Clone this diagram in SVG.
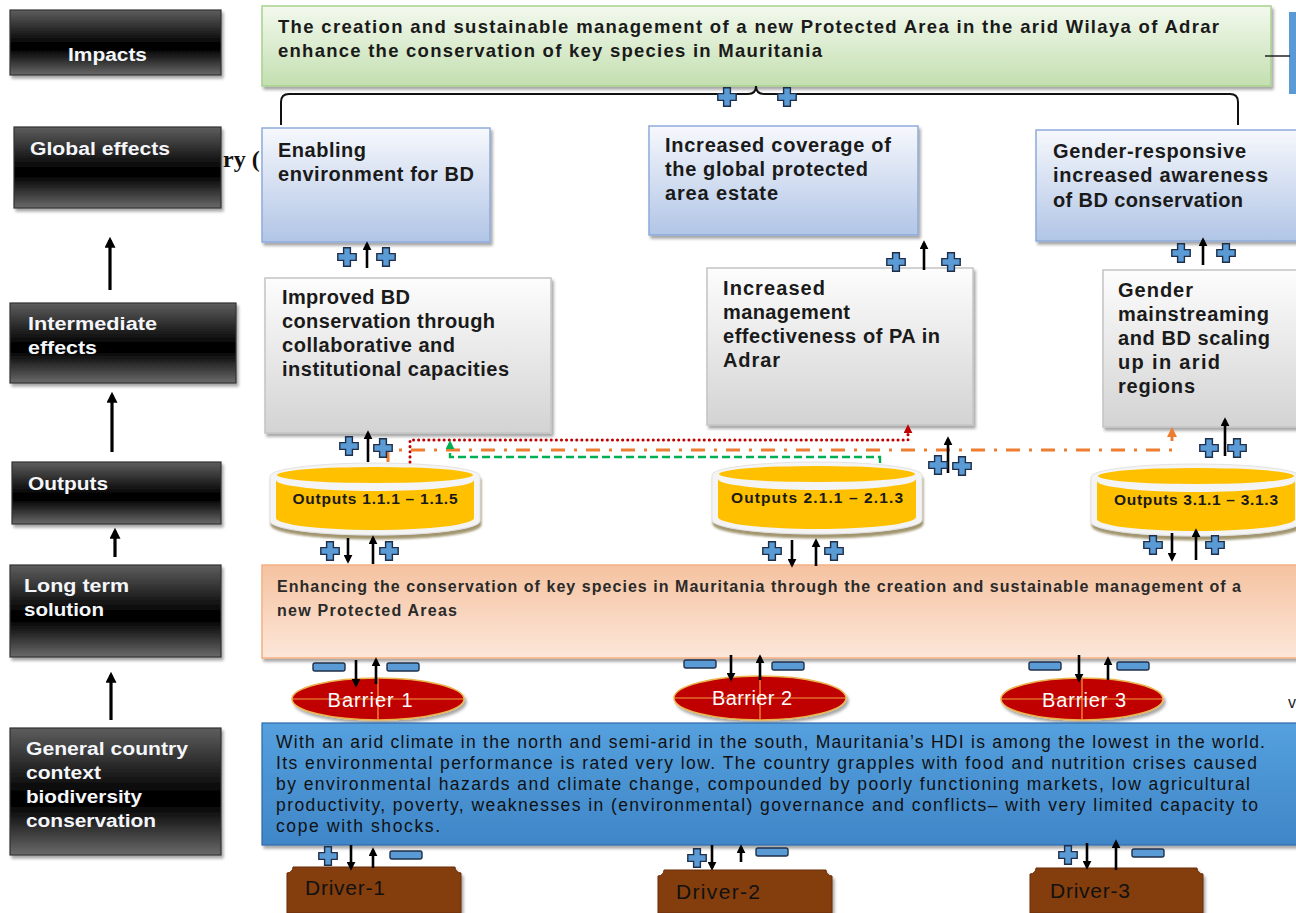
<svg xmlns="http://www.w3.org/2000/svg" xmlns:xlink="http://www.w3.org/1999/xlink" width="1296" height="913" viewBox="0 0 1296 913">
<style>
.lbl{font-family:"Liberation Sans",Arial,sans-serif;font-weight:bold;font-size:18px;fill:#f4f6fa}
.t{font-family:"Liberation Sans",Arial,sans-serif;font-size:20px;font-weight:bold;fill:#1a1a1a}
.tg{font-family:"Liberation Sans",Arial,sans-serif;font-size:18.5px;font-weight:bold;fill:#1a1a1a}
.tl{font-family:"Liberation Sans",Arial,sans-serif;font-size:16px;font-weight:bold;fill:#2a2a2a}
.tc{font-family:"Liberation Sans",Arial,sans-serif;font-size:17.5px;fill:#111}
.cy{font-family:"Liberation Sans",Arial,sans-serif;font-size:15.5px;font-weight:bold;fill:#1a1a1a;text-anchor:middle}
.br{font-family:"Liberation Sans",Arial,sans-serif;font-size:20px;fill:#fff;text-anchor:middle}
.dr{font-family:"Liberation Sans",Arial,sans-serif;font-size:21px;fill:#111}
.bk{stroke:#333;stroke-width:1.2}
.arr{stroke:#000;stroke-width:2.6;fill:none;marker-end:url(#ak)}
.arrL{stroke:#000;stroke-width:3.2;fill:none;marker-end:url(#akL)}
</style>
<defs>
<linearGradient id="gBlack" x1="0" y1="0" x2="0" y2="1">
<stop offset="0" stop-color="#5e5e5e"/><stop offset="0.5" stop-color="#050505"/><stop offset="0.6" stop-color="#000"/><stop offset="1" stop-color="#6a6a6a"/>
</linearGradient>
<linearGradient id="gGreen" x1="0" y1="0" x2="0" y2="1">
<stop offset="0" stop-color="#f3f9ee"/><stop offset="1" stop-color="#c3dfb0"/>
</linearGradient>
<linearGradient id="gBlue" x1="0" y1="0" x2="0" y2="1">
<stop offset="0" stop-color="#f6f8fc"/><stop offset="1" stop-color="#b1c5e6"/>
</linearGradient>
<linearGradient id="gGray" x1="0" y1="0" x2="0" y2="1">
<stop offset="0" stop-color="#fdfdfd"/><stop offset="1" stop-color="#d3d3d3"/>
</linearGradient>
<linearGradient id="gPeach" x1="0" y1="0" x2="0" y2="1">
<stop offset="0" stop-color="#f5c2a0"/><stop offset="1" stop-color="#fce7d9"/>
</linearGradient>
<linearGradient id="gCtx" x1="0" y1="0" x2="0" y2="1">
<stop offset="0" stop-color="#55a0de"/><stop offset="1" stop-color="#3f86c8"/>
</linearGradient>
<filter id="sh" x="-5%" y="-10%" width="115%" height="130%">
<feDropShadow dx="2" dy="3" stdDeviation="1.5" flood-color="#000" flood-opacity="0.35"/>
</filter>
<filter id="shT" x="-5%" y="-10%" width="115%" height="130%">
<feDropShadow dx="1" dy="4" stdDeviation="1" flood-color="#8a7a4a" flood-opacity="0.8"/>
</filter>
<path id="plus" d="M-3.4,-9.2 h6.8 v5.8 h5.8 v6.8 h-5.8 v5.8 h-6.8 v-5.8 h-5.8 v-6.8 h5.8 z" fill="#5b9bd5" stroke="#1f2f4a" stroke-width="1.4"/>
<rect id="minus" x="-16" y="-4" width="32" height="8" rx="2" fill="#5b9bd5" stroke="#1f2f4a" stroke-width="1.4"/>
<marker id="ak" viewBox="0 0 10 10" refX="7" refY="5" markerWidth="9" markerHeight="9" markerUnits="userSpaceOnUse" orient="auto"><path d="M0,0 L10,5 L0,10 z" fill="#000"/></marker>
<marker id="akL" viewBox="0 0 10 10" refX="7" refY="5" markerWidth="11" markerHeight="11" markerUnits="userSpaceOnUse" orient="auto"><path d="M0,0 L10,5 L0,10 z" fill="#000"/></marker>
<marker id="akR" viewBox="0 0 10 10" refX="7" refY="5" markerWidth="9" markerHeight="9" markerUnits="userSpaceOnUse" orient="auto"><path d="M0,0 L10,5 L0,10 z" fill="#c00000"/></marker>
<marker id="akO" viewBox="0 0 10 10" refX="7" refY="5" markerWidth="10" markerHeight="10" markerUnits="userSpaceOnUse" orient="auto"><path d="M0,0 L10,5 L0,10 z" fill="#ed7d31"/></marker>
<marker id="akG" viewBox="0 0 10 10" refX="7" refY="5" markerWidth="9" markerHeight="9" markerUnits="userSpaceOnUse" orient="auto"><path d="M0,0 L10,5 L0,10 z" fill="#00b050"/></marker>
</defs>
<rect width="1296" height="913" fill="#fff"/>

<!-- Left column labels -->
<g id="lbl-impacts"><rect x="10" y="10" width="211" height="65" fill="url(#gBlack)" class="bk" filter="url(#sh)"/><text class="lbl" x="68" y="61" textLength="79" lengthAdjust="spacingAndGlyphs">Impacts</text></g>
<g id="lbl-global"><rect x="14" y="127" width="207" height="81" fill="url(#gBlack)" class="bk" filter="url(#sh)"/><text class="lbl" x="30" y="155" textLength="140" lengthAdjust="spacingAndGlyphs">Global effects</text></g>
<g id="lbl-intermediate"><rect x="10" y="303" width="226" height="80" fill="url(#gBlack)" class="bk" filter="url(#sh)"/><text class="lbl" x="28" y="330" textLength="129" lengthAdjust="spacingAndGlyphs">Intermediate</text><text class="lbl" x="28" y="354" textLength="69" lengthAdjust="spacingAndGlyphs">effects</text></g>
<g id="lbl-outputs"><rect x="12" y="462" width="209" height="62" fill="url(#gBlack)" class="bk" filter="url(#sh)"/><text class="lbl" x="28" y="490" textLength="80" lengthAdjust="spacingAndGlyphs">Outputs</text></g>
<g id="lbl-longterm"><rect x="10" y="565" width="211" height="92" fill="url(#gBlack)" class="bk" filter="url(#sh)"/><text class="lbl" x="24" y="592" textLength="105" lengthAdjust="spacingAndGlyphs">Long term</text><text class="lbl" x="24" y="616" textLength="80" lengthAdjust="spacingAndGlyphs">solution</text></g>
<g id="lbl-context"><rect x="10" y="728" width="211" height="127" fill="url(#gBlack)" class="bk" filter="url(#sh)"/><text class="lbl" x="26" y="755" textLength="162" lengthAdjust="spacingAndGlyphs">General country</text><text class="lbl" x="26" y="779" textLength="75" lengthAdjust="spacingAndGlyphs">context</text><text class="lbl" x="26" y="803" textLength="116" lengthAdjust="spacingAndGlyphs">biodiversity</text><text class="lbl" x="26" y="827" textLength="130" lengthAdjust="spacingAndGlyphs">conservation</text></g>

<text x="223" y="167" font-family="'Liberation Serif',serif" font-weight="bold" font-size="24" fill="#111">ry (</text>

<!-- Impact -->
<g id="impact"><rect x="262" y="6" width="1009" height="80" fill="url(#gGreen)" stroke="#a9d18e" stroke-width="1.5" filter="url(#sh)"/>
<text class="tg" x="278" y="33" textLength="941" lengthAdjust="spacing">The creation and sustainable management of a new Protected Area in the arid Wilaya of Adrar</text>
<text class="tg" x="278" y="57" textLength="544" lengthAdjust="spacing">enhance the conservation of key species in Mauritania</text></g>
<rect x="1289" y="12" width="7" height="82" fill="#5b9bd5"/>

<!-- Global effects -->
<g id="ge1"><rect x="262" y="128" width="228" height="114" fill="url(#gBlue)" stroke="#8eaadb" stroke-width="1.5" filter="url(#sh)"/>
<text class="t" x="278" y="157" textLength="88" lengthAdjust="spacing">Enabling</text>
<text class="t" x="278" y="181" textLength="196" lengthAdjust="spacing">environment for BD</text></g>
<g id="ge2"><rect x="649" y="126" width="269" height="109" fill="url(#gBlue)" stroke="#8eaadb" stroke-width="1.5" filter="url(#sh)"/>
<text class="t" x="665" y="152" textLength="226" lengthAdjust="spacing">Increased coverage of</text>
<text class="t" x="665" y="176" textLength="203" lengthAdjust="spacing">the global protected</text>
<text class="t" x="665" y="200" textLength="113" lengthAdjust="spacing">area estate</text></g>
<g id="ge3"><rect x="1036" y="130" width="262" height="111" fill="url(#gBlue)" stroke="#8eaadb" stroke-width="1.5" filter="url(#sh)"/>
<text class="t" x="1053" y="158" textLength="193" lengthAdjust="spacing">Gender-responsive</text>
<text class="t" x="1053" y="182" textLength="215" lengthAdjust="spacing">increased awareness</text>
<text class="t" x="1053" y="207" textLength="190" lengthAdjust="spacing">of BD conservation</text></g>

<!-- Intermediate effects -->
<g id="ie1"><rect x="265" y="278" width="286" height="155" fill="url(#gGray)" stroke="#c4c4c4" stroke-width="1.5" filter="url(#sh)"/>
<text class="t" x="282" y="304" textLength="128" lengthAdjust="spacing">Improved BD</text>
<text class="t" x="282" y="328" textLength="213" lengthAdjust="spacing">conservation through</text>
<text class="t" x="282" y="352" textLength="173" lengthAdjust="spacing">collaborative and</text>
<text class="t" x="282" y="376" textLength="227" lengthAdjust="spacing">institutional capacities</text></g>
<g id="ie2"><rect x="707" y="268" width="266" height="157" fill="url(#gGray)" stroke="#c4c4c4" stroke-width="1.5" filter="url(#sh)"/>
<text class="t" x="723" y="295" textLength="102" lengthAdjust="spacing">Increased</text>
<text class="t" x="723" y="319" textLength="127" lengthAdjust="spacing">management</text>
<text class="t" x="723" y="343" textLength="217" lengthAdjust="spacing">effectiveness of PA in</text>
<text class="t" x="723" y="367" textLength="57" lengthAdjust="spacing">Adrar</text></g>
<g id="ie3"><rect x="1103" y="270" width="196" height="157" fill="url(#gGray)" stroke="#c4c4c4" stroke-width="1.5" filter="url(#sh)"/>
<text class="t" x="1118" y="297" textLength="75" lengthAdjust="spacing">Gender</text>
<text class="t" x="1118" y="321" textLength="151" lengthAdjust="spacing">mainstreaming</text>
<text class="t" x="1118" y="345" textLength="152" lengthAdjust="spacing">and BD scaling</text>
<text class="t" x="1118" y="369" textLength="102" lengthAdjust="spacing">up in arid</text>
<text class="t" x="1118" y="393" textLength="77" lengthAdjust="spacing">regions</text></g>

<!-- Outputs cylinders -->
<g id="out1">
<path d="M270,476 A105,13 0 0 1 480,476 V521 A105,14 0 0 1 270,521 Z" fill="#f4f4f4" stroke="#e2e2e2" filter="url(#shT)"/>
<ellipse cx="375" cy="475" rx="98" ry="8" fill="#ffc000"/>
<path d="M276,480 A99,11 0 0 0 474,480 V518 A99,12 0 0 1 276,518 Z" fill="#ffc000"/>
<text class="cy" x="375" y="504" textLength="165" lengthAdjust="spacing">Outputs 1.1.1 – 1.1.5</text></g>
<g id="out2" transform="translate(442,-1)">
<path d="M270,476 A105,13 0 0 1 480,476 V521 A105,14 0 0 1 270,521 Z" fill="#f4f4f4" stroke="#e2e2e2" filter="url(#shT)"/>
<ellipse cx="375" cy="475" rx="98" ry="8" fill="#ffc000"/>
<path d="M276,480 A99,11 0 0 0 474,480 V518 A99,12 0 0 1 276,518 Z" fill="#ffc000"/>
<text class="cy" x="375" y="504" textLength="172" lengthAdjust="spacing">Outputs 2.1.1 – 2.1.3</text></g>
<g id="out3" transform="translate(821,1)">
<path d="M270,476 A105,13 0 0 1 480,476 V521 A105,14 0 0 1 270,521 Z" fill="#f4f4f4" stroke="#e2e2e2" filter="url(#shT)"/>
<ellipse cx="375" cy="475" rx="98" ry="8" fill="#ffc000"/>
<path d="M276,480 A99,11 0 0 0 474,480 V518 A99,12 0 0 1 276,518 Z" fill="#ffc000"/>
<text class="cy" x="375" y="504" textLength="164" lengthAdjust="spacing">Outputs 3.1.1 – 3.1.3</text></g>

<!-- Long term solution -->
<g id="longterm"><rect x="262" y="565" width="1040" height="93" fill="url(#gPeach)" stroke="#f4b183" stroke-width="1.5" filter="url(#sh)"/>
<text class="tl" x="277" y="592" textLength="964" lengthAdjust="spacing">Enhancing the conservation of key species in Mauritania through the creation and sustainable management of a</text>
<text class="tl" x="277" y="616" textLength="180" lengthAdjust="spacing">new Protected Areas</text></g>

<!-- Barriers -->
<g id="barrier1"><ellipse cx="378" cy="699" rx="86" ry="21" fill="#c00000" stroke="#e9b44c" stroke-width="1.5" filter="url(#sh)"/><path d="M292,699 H464 M378,678 V720" stroke="#f0a040" stroke-width="1.2"/><text class="br" x="370" y="707" textLength="85" lengthAdjust="spacing">Barrier 1</text></g>
<g id="barrier2"><ellipse cx="760" cy="698" rx="86" ry="22" fill="#c00000" stroke="#e9b44c" stroke-width="1.5" filter="url(#sh)"/><path d="M674,698 H846 M760,676 V720" stroke="#f0a040" stroke-width="1.2"/><text class="br" x="752" y="705" textLength="80" lengthAdjust="spacing">Barrier 2</text></g>
<g id="barrier3"><ellipse cx="1082" cy="699" rx="81" ry="21" fill="#c00000" stroke="#e9b44c" stroke-width="1.5" filter="url(#sh)"/><path d="M1001,699 H1163 M1082,678 V720" stroke="#f0a040" stroke-width="1.2"/><text class="br" x="1084" y="707" textLength="84" lengthAdjust="spacing">Barrier 3</text></g>
<text x="1288" y="708" font-family="'Liberation Sans',Arial,sans-serif" font-size="16" fill="#222">v</text>

<!-- Context -->
<g id="context"><rect x="262" y="723" width="1040" height="122" fill="url(#gCtx)" stroke="#2e6aa8" stroke-width="1.2" filter="url(#sh)"/>
<text class="tc" x="276" y="748" textLength="989" lengthAdjust="spacing">With an arid climate in the north and semi-arid in the south, Mauritania’s HDI is among the lowest in the world.</text>
<text class="tc" x="276" y="769" textLength="981" lengthAdjust="spacing">Its environmental performance is rated very low. The country grapples with food and nutrition crises caused</text>
<text class="tc" x="276" y="790" textLength="974" lengthAdjust="spacing">by environmental hazards and climate change, compounded by poorly functioning markets, low agricultural</text>
<text class="tc" x="276" y="811" textLength="982" lengthAdjust="spacing">productivity, poverty, weaknesses in (environmental) governance and conflicts– with very limited capacity to</text>
<text class="tc" x="276" y="832" textLength="164" lengthAdjust="spacing">cope with shocks.</text></g>

<!-- Drivers -->
<g id="driver1"><path d="M293,867 H455 A6,6 0 0 0 461,873 V913 H287 V873 A6,6 0 0 0 293,867 Z" fill="#843c0c" stroke="#6a2f08" filter="url(#sh)"/><text class="dr" x="305" y="895" textLength="80" lengthAdjust="spacing">Driver-1</text></g>
<g id="driver2"><path d="M664,870 H826 A6,6 0 0 0 832,876 V913 H658 V876 A6,6 0 0 0 664,870 Z" fill="#843c0c" stroke="#6a2f08" filter="url(#sh)"/><text class="dr" x="676" y="899" textLength="84" lengthAdjust="spacing">Driver-2</text></g>
<g id="driver3"><path d="M1036,868 H1197 A6,6 0 0 0 1203,874 V913 H1030 V874 A6,6 0 0 0 1036,868 Z" fill="#843c0c" stroke="#6a2f08" filter="url(#sh)"/><text class="dr" x="1050" y="898" textLength="80" lengthAdjust="spacing">Driver-3</text></g>

<!-- Connectors -->
<g id="connectors">
<line x1="1265" y1="56" x2="1290" y2="56" stroke="#222" stroke-width="1.5"/>
<path d="M281,125 V102 Q281,94 289,94 H748 Q756,94 756,86 Q756,94 764,94 H1230 Q1238,94 1238,102 V125" fill="none" stroke="#111" stroke-width="2"/>
<path class="arrL" d="M110,290 V240"/>
<path class="arrL" d="M112,452 V395"/>
<path class="arrL" d="M115,557 V531"/>
<path class="arrL" d="M111,720 V675"/>

<path d="M410,462 V440 H908 V427" fill="none" stroke="#c00000" stroke-width="3" stroke-dasharray="0.1 5" stroke-linecap="round" marker-end="url(#akR)"/>
<path d="M388,462 V450 H1172 V430" fill="none" stroke="#ed7d31" stroke-width="3" stroke-dasharray="14 9 3 9" marker-end="url(#akO)"/>
<path d="M880,463 V457 H450 V443" fill="none" stroke="#00b050" stroke-width="2.4" stroke-dasharray="8 4" marker-end="url(#akG)"/>

<path class="arr" d="M367,268 V244"/>
<path class="arr" d="M924,270 V243"/>
<path class="arr" d="M1203,265 V240"/>
<path class="arr" d="M368,462 V433"/>
<path class="arr" d="M948,473 V439"/>
<path class="arr" d="M1225,456 V420"/>

<path class="arr" d="M348,538 V561"/><path class="arr" d="M373,564 V538"/>
<path class="arr" d="M792,540 V565"/><path class="arr" d="M816,566 V541"/>
<path class="arr" d="M1172,533 V559"/><path class="arr" d="M1196,560 V531"/>

<path class="arr" d="M356,660 V685"/><path class="arr" d="M376,684 V660"/>
<path class="arr" d="M731,655 V679"/><path class="arr" d="M760,680 V657"/>
<path class="arr" d="M1079,655 V680"/><path class="arr" d="M1108,680 V659"/>

<path class="arr" d="M351,845 V868"/><path class="arr" d="M373,868 V850"/>
<path class="arr" d="M712,845 V868"/><path class="arr" d="M741,862 V847"/>
<path class="arr" d="M1087,843 V867"/><path class="arr" d="M1116,870 V842"/>

<use href="#plus" x="727" y="97"/><use href="#plus" x="787" y="97"/>
<use href="#plus" x="347" y="257"/><use href="#plus" x="386" y="257"/>
<use href="#plus" x="896" y="262"/><use href="#plus" x="951" y="262"/>
<use href="#plus" x="1181" y="253"/><use href="#plus" x="1226" y="253"/>
<use href="#plus" x="349" y="446"/><use href="#plus" x="383" y="448"/>
<use href="#plus" x="938" y="465"/><use href="#plus" x="962" y="466"/>
<use href="#plus" x="1209" y="448"/><use href="#plus" x="1237" y="448"/>
<use href="#plus" x="330" y="551"/><use href="#plus" x="389" y="551"/>
<use href="#plus" x="772" y="551"/><use href="#plus" x="834" y="551"/>
<use href="#plus" x="1153" y="545"/><use href="#plus" x="1215" y="545"/>
<use href="#minus" x="329" y="667"/><use href="#minus" x="403" y="667"/>
<use href="#minus" x="700" y="664"/><use href="#minus" x="788" y="666"/>
<use href="#minus" x="1045" y="666"/><use href="#minus" x="1133" y="666"/>
<use href="#plus" x="328" y="856"/><use href="#minus" x="406" y="855"/>
<use href="#plus" x="697" y="858"/><use href="#minus" x="772" y="852"/>
<use href="#plus" x="1068" y="855"/><use href="#minus" x="1148" y="853"/>
</g>
</svg>
